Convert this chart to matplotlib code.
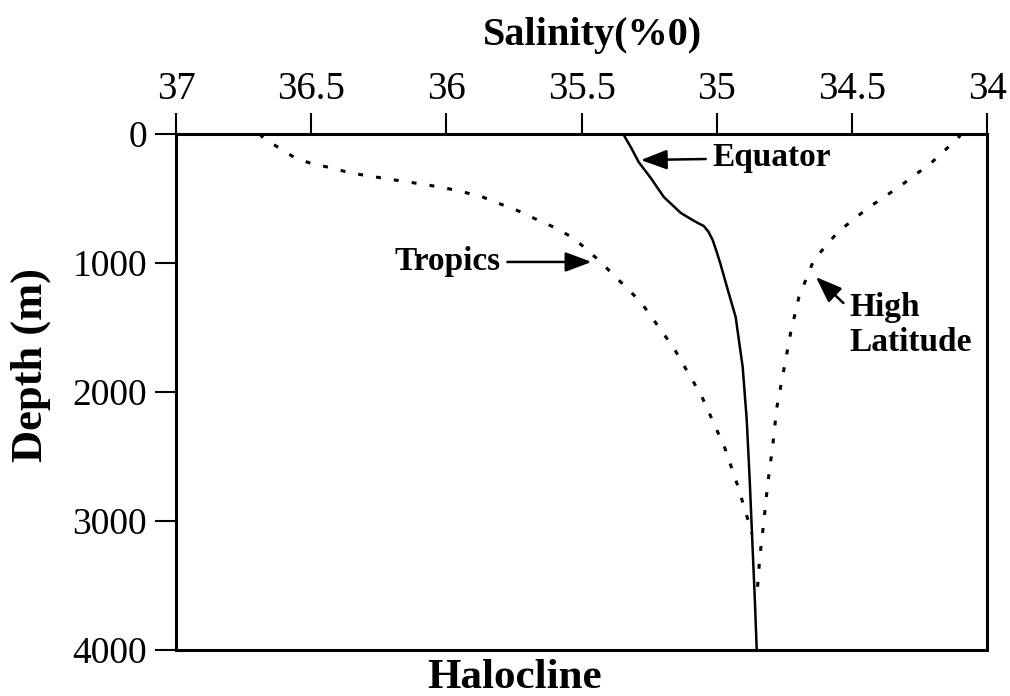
import matplotlib
matplotlib.use("Agg")
import matplotlib.pyplot as plt

# === DATA ===
x_ticks = [37, 36.5, 36, 35.5, 35, 34.5, 34]
x_tick_labels = ["37", "36.5", "36", "35.5", "35", "34.5", "34"]
y_ticks = [0, 1000, 2000, 3000, 4000]

equator_sal = [35.346, 35.316, 35.289, 35.244, 35.196, 35.133, 35.096, 35.070, 35.048,
               35.030, 35.015, 35.000, 34.985, 34.959, 34.930, 34.904, 34.889, 34.878,
               34.867, 34.859, 34.852]
equator_depth = [0, 109, 217, 341, 488, 612, 659, 690, 713,
                 760, 822, 915, 1016, 1209, 1419, 1806, 2217, 2682,
                 3225, 3612, 4000]

tropics_sal = [36.69, 36.678, 36.559, 36.493, 36.422, 36.356, 36.215, 36.07, 36.004,
               35.937, 35.867, 35.80, 35.733, 35.67, 35.604, 35.53, 35.437, 35.281,
               35.159, 35.056, 34.970, 34.922, 34.881, 34.870]
tropics_depth = [0, 31, 186, 233, 264, 302, 349, 395, 419,
                 450, 488, 543, 597, 659, 721, 806, 977, 1302,
                 1659, 2031, 2434, 2729, 3016, 3100]

highlat_sal = [34.096, 34.107, 34.207, 34.326, 34.441, 34.552, 34.641, 34.696, 34.726,
               34.752, 34.778, 34.793, 34.811, 34.826, 34.841, 34.852]
highlat_depth = [0, 31, 225, 411, 574, 760, 977, 1264, 1535,
                 1829, 2124, 2419, 2705, 3008, 3287, 3597]

plt.rcParams['font.family'] = ['Liberation Serif', 'DejaVu Serif']

fig = plt.figure(figsize=(10.10, 6.96), dpi=100)
ax = fig.add_axes([0.1743, 0.0661, 0.8030, 0.7414])

ax.plot(equator_sal, equator_depth, color='black', lw=1.8, solid_joinstyle='round')
ax.plot(tropics_sal, tropics_depth, color='black', lw=2.2, linestyle=(0, (1.6, 4.3)))
ax.plot(highlat_sal, highlat_depth, color='black', lw=2.2, linestyle=(0, (1.6, 4.3)))

ax.set_xlim(37, 34)
ax.set_ylim(4000, 0)

ax.xaxis.tick_top()
ax.set_xticks(x_ticks)
ax.set_xticklabels(x_tick_labels)
ax.set_yticks(y_ticks)
ax.tick_params(axis='x', direction='out', length=15, width=1.5, pad=4, labelsize=28)
ax.tick_params(axis='y', direction='out', length=15, width=1.5, pad=6, labelsize=27)
ax.tick_params(right=False, bottom=False)
for sp in ax.spines.values():
    sp.set_linewidth(2.2)

arrow = dict(arrowstyle='-|>,head_length=0.8,head_width=0.3', color='black',
             lw=1.8, mutation_scale=20, shrinkA=3, shrinkB=0)

ax.annotate('Equator', xy=(35.281, 202), xytext=(35.015, 186),
            ha='left', va='center', fontsize=24, fontweight='bold',
            arrowprops=arrow)
ax.annotate('Tropics', xy=(35.463, 992), xytext=(35.80, 992),
            ha='right', va='center', fontsize=24, fontweight='bold',
            arrowprops=arrow)
ax.annotate('High\nLatitude', xy=(34.633, 1109), xytext=(34.51, 1480),
            ha='left', va='center', fontsize=24, fontweight='bold',
            linespacing=1.15, arrowprops=dict(arrow, relpos=(0, 0.75)))

fig.text(592 / 1010, 1 - 35 / 696, 'Salinity(%0)', ha='center', va='center',
         fontsize=29, fontweight='bold')
fig.text(31 / 1010, 1 - 365 / 696, 'Depth (m)', ha='center', va='center',
         rotation=90, fontsize=32, fontweight='bold')
fig.text(515 / 1010, 1 - 688 / 696, 'Halocline', ha='center', va='baseline',
         fontsize=31, fontweight='bold')

fig.savefig('out.png', dpi=100)
